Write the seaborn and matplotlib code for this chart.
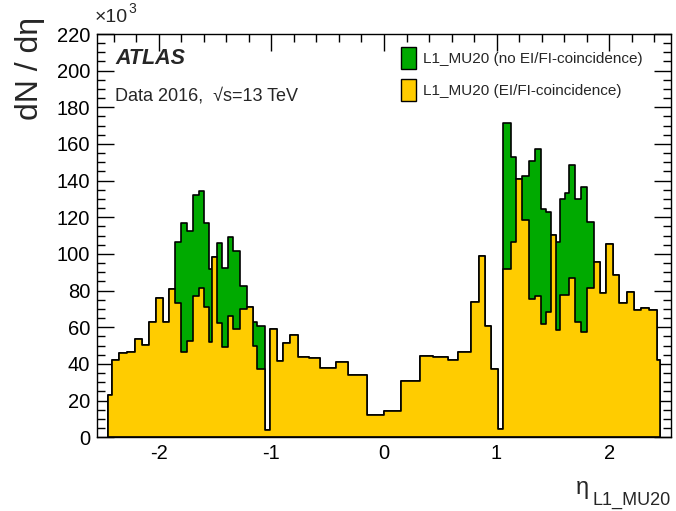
import matplotlib
matplotlib.use("Agg")
import matplotlib.pyplot as plt
from matplotlib.patches import Patch
from matplotlib.ticker import MultipleLocator
import numpy as np
import seaborn as sns

# variable eta binning of the L1 muon RoIs
edges = [-2.455, -2.420, -2.356, -2.287, -2.213, -2.154, -2.089, -2.029, -1.964, -1.911,
         -1.858, -1.804, -1.751, -1.698, -1.644, -1.597, -1.556, -1.526, -1.484, -1.443,
         -1.389, -1.342, -1.283, -1.220, -1.167, -1.126, -1.053, -1.013, -0.947, -0.893,
         -0.837, -0.767, -0.662, -0.569, -0.427, -0.317, -0.148, 0.0, 0.148, 0.320,
         0.433, 0.572, 0.660, 0.771, 0.842, 0.898, 0.948, 1.016, 1.053, 1.126,
         1.173, 1.227, 1.284, 1.344, 1.397, 1.440, 1.482, 1.524, 1.564, 1.604,
         1.646, 1.700, 1.753, 1.807, 1.864, 1.917, 1.973, 2.031, 2.092, 2.157,
         2.218, 2.284, 2.353, 2.424, 2.456]

# entries per bin, x10^3 -- with EI/FI coincidence
coinc = [23.1, 42.2, 46.2, 46.7, 53.8, 50.6, 63.1, 76.2, 63.1, 80.8,
         73.1, 46.7, 52.7, 77.1, 81.3, 71.1, 52.2, 98.2, 62.2, 49.1,
         66.2, 58.9, 70.1, 70.9, 50.0, 37.1, 4.0, 58.9, 41.4, 51.6,
         55.7, 44.0, 43.4, 38.0, 41.0, 33.8, 12.2, 14.5, 30.5, 44.2,
         43.8, 42.3, 46.3, 74.0, 98.9, 60.5, 37.1, 4.4, 92.0, 106.5,
         140.7, 118.5, 75.3, 77.1, 61.6, 68.5, 110.4, 58.7, 77.6, 77.6,
         86.7, 63.0, 57.2, 81.6, 95.8, 78.6, 105.5, 88.5, 73.2, 79.2,
         69.7, 70.4, 69.3, 42.2]

# no coincidence requirement (all L1_MU20)
no_coinc = [23.1, 42.2, 46.2, 46.7, 53.8, 50.6, 63.1, 76.2, 63.1, 80.8,
            106.3, 117.1, 112.8, 132.2, 134.5, 117.1, 91.7, 98.2, 106.2, 92.2,
            109.4, 101.6, 82.5, 70.9, 63.1, 60.7, 4.0, 58.9, 41.4, 51.6,
            55.7, 44.0, 43.4, 38.0, 41.0, 33.8, 12.2, 14.5, 30.5, 44.2,
            43.8, 42.3, 46.3, 74.0, 98.9, 60.5, 37.1, 4.4, 171.6, 152.7,
            140.7, 142.5, 150.9, 157.3, 124.8, 123.1, 110.4, 106.5, 129.8, 133.4,
            148.5, 130.0, 136.4, 117.2, 95.8, 78.6, 105.5, 88.5, 73.2, 79.2,
            69.7, 70.4, 69.3, 42.2]

labels = ["L1_MU20 (no EI/FI-coincidence)", "L1_MU20 (EI/FI-coincidence)"]
green = "#00aa00"
yellow = "#ffcc00"

sns.set_style("ticks")
plt.rcParams["font.family"] = ["Liberation Sans", "DejaVu Sans"]
plt.rcParams["axes.unicode_minus"] = False

centers = (np.array(edges[:-1]) + np.array(edges[1:])) / 2

fig = plt.figure(figsize=(6.76, 5.11), dpi=100)
ax = fig.add_axes([97 / 676, 1 - 437.3 / 511, 574 / 676, 403.3 / 511])

sns.histplot(x=centers, weights=no_coinc, bins=edges, element="step", fill=True,
             color=green, alpha=1, edgecolor="black", linewidth=1.2, ax=ax)
sns.histplot(x=centers, weights=coinc, bins=edges, element="step", fill=True,
             color=yellow, alpha=1, edgecolor="black", linewidth=1.2, ax=ax)

ax.set_xlim(-2.55, 2.55)
ax.set_ylim(0, 220)
ax.set_xlabel("")
ax.set_ylabel("")
ax.xaxis.set_major_locator(MultipleLocator(1))
ax.xaxis.set_minor_locator(MultipleLocator(0.2))
ax.yaxis.set_major_locator(MultipleLocator(20))
ax.yaxis.set_minor_locator(MultipleLocator(5))
ax.tick_params(which="both", direction="in", top=True, right=True, width=1, colors="black")
ax.tick_params(which="major", length=12, labelsize=14.5, pad=5)
ax.tick_params(which="minor", length=6)
for s in ax.spines.values():
    s.set_visible(True)
    s.set_linewidth(1)
    s.set_color("black")

# axis titles
fig.text(30 / 676, 1 - 17 / 511, "dN / dη", rotation=90, ha="center", va="top", fontsize=23)
fig.text(589 / 676, 1 - 494 / 511, "η", ha="right", va="baseline", fontsize=17)
fig.text(592 / 676, 1 - 505 / 511, "L1_MU20", ha="left", va="baseline", fontsize=13)
fig.text(95 / 676, 1 - 22 / 511, "×10", ha="left", va="baseline", fontsize=14)
fig.text(128 / 676, 1 - 13 / 511, "3", ha="left", va="baseline", fontsize=10)

# ATLAS labels
fig.text(115 / 676, 1 - 58 / 511, "ATLAS", ha="left", va="center", fontsize=15.5,
         fontweight="bold", fontstyle="italic")
fig.text(115 / 676, 1 - 96 / 511, "Data 2016,  √s=13 TeV", ha="left", va="center", fontsize=13)

handles = [Patch(facecolor=green, edgecolor="black", linewidth=1),
           Patch(facecolor=yellow, edgecolor="black", linewidth=1)]
fig.legend(handles, labels, loc="upper left", bbox_to_anchor=(401 / 676, 1 - 47 / 511),
           bbox_transform=fig.transFigure, frameon=False, fontsize=11,
           handlelength=0.98, handleheight=1.84, handletextpad=0.43,
           labelspacing=0.66, borderpad=0, borderaxespad=0)

fig.savefig("out.png", dpi=100)
